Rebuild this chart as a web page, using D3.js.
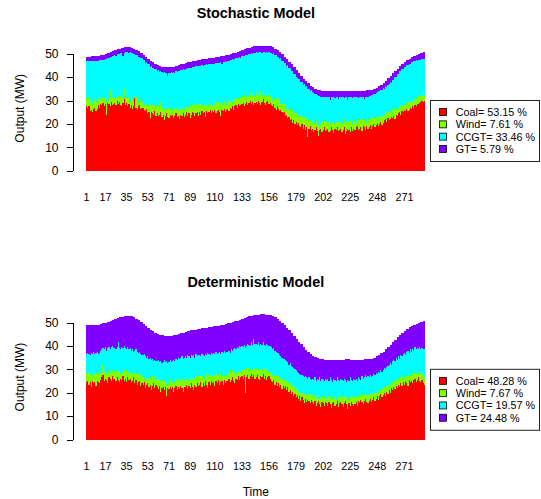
<!DOCTYPE html>
<html><head><meta charset="utf-8">
<script src="https://cdn.jsdelivr.net/npm/d3@7"></script>
<style>
html,body{margin:0;padding:0;background:#fff;}
svg{display:block;}
text{font-family:"Liberation Sans",Arial,Helvetica,sans-serif;fill:#000;}
</style></head><body>
<svg id="chart" width="541" height="499"></svg>
<script>
// ---- categories & labels ----
const timeSteps = d3.range(1, 289);
const tickLabels = [1,17,35,53,71,89,110,133,156,179,202,225,248,271];
const yTicks = [0,10,20,30,40,50];
const seriesNames = ["Coal","Wind","CCGT","GT"];
const seriesColors = ["#FF0000","#80FF00","#00FFFF","#8000FF"];
const legendStoch = ["Coal= 53.15 %","Wind= 7.61 %","CCGT= 33.46 %","GT= 5.79 %"];
const legendDet = ["Coal= 48.28 %","Wind= 7.67 %","CCGT= 19.57 %","GT= 24.48 %"];

// ---- Stochastic model (MW) ----
const coalS = [
27.5,27.0,27.5,25.5,26.0,25.0,26.5,27.0,25.5,26.5,28.0,27.0,
28.5,28.0,29.0,27.5,28.5,24.0,29.0,28.5,27.5,29.5,28.0,28.5,
29.0,28.0,30.0,28.5,29.5,28.0,27.5,29.0,30.5,28.0,29.0,27.5,
28.5,27.0,28.0,26.5,27.5,31.0,27.0,26.0,27.5,28.0,26.5,27.0,
27.0,26.0,25.5,26.5,24.5,25.0,22.5,25.0,24.5,24.0,25.5,23.5,
24.5,23.5,24.0,25.0,23.0,24.0,21.5,23.5,24.5,23.0,22.5,24.0,
23.5,24.0,22.5,23.5,24.5,23.0,23.5,22.0,24.0,23.5,24.5,23.0,
24.0,25.0,23.5,24.5,22.5,24.0,25.0,24.5,23.5,24.5,25.0,23.5,
25.0,24.0,25.5,24.5,25.0,23.0,25.5,24.5,25.0,26.0,24.5,25.5,
25.0,26.0,24.5,25.5,26.0,25.0,23.5,26.0,25.5,26.5,25.0,26.0,
26.5,25.5,27.0,26.5,27.5,26.0,27.5,28.0,27.0,28.5,27.5,28.0,
28.5,29.0,27.5,28.5,29.5,28.0,29.0,30.0,28.5,29.5,28.0,29.0,
29.5,28.5,30.0,29.0,28.0,29.5,30.5,29.0,28.0,29.5,30.0,28.5,
29.0,28.0,27.5,28.5,27.0,26.0,27.5,26.5,25.5,26.0,25.0,24.5,
25.0,23.5,24.0,22.5,23.0,21.5,22.0,20.5,21.5,20.0,21.0,19.5,
20.5,19.0,18.5,20.0,18.0,19.5,17.5,18.5,14.5,18.0,19.0,17.5,
18.0,16.5,17.5,18.5,17.0,15.0,17.5,18.0,16.5,17.5,18.5,17.0,
17.5,18.0,16.5,17.0,18.5,17.5,16.0,18.0,17.5,18.5,17.0,17.5,
18.0,16.5,17.5,18.5,15.5,17.0,18.0,17.5,16.5,18.5,17.0,18.0,
17.5,18.5,19.0,17.5,18.0,18.5,17.0,19.0,18.5,17.5,19.0,18.0,
18.5,19.5,18.0,19.0,20.0,18.5,19.5,20.5,19.0,20.0,21.0,19.5,
20.5,21.5,22.0,21.0,22.5,21.5,22.0,23.0,22.5,23.5,22.0,24.0,
23.5,24.5,25.0,24.0,25.5,25.0,26.0,25.5,26.5,25.5,26.0,27.0,
26.5,27.5,27.0,28.0,27.5,28.5,28.5,29.0,29.5,30.0,29.5,30.0];
const windS = [
3.5,3.0,4.0,4.5,3.0,3.5,2.5,3.5,4.0,3.0,2.5,3.5,
2.0,3.5,2.5,3.5,2.0,5.5,3.0,2.0,7.0,2.5,3.0,4.0,
2.5,3.0,2.5,3.5,1.5,4.0,4.5,2.0,4.5,3.5,2.0,7.0,
3.0,2.5,3.0,4.0,2.0,0.5,4.5,3.5,2.0,3.0,4.0,2.0,
3.0,2.0,4.5,2.0,4.0,2.5,6.0,2.5,3.5,3.5,2.0,4.5,
3.0,4.0,2.5,4.5,4.0,3.5,5.0,2.5,2.0,3.5,4.5,3.0,
3.5,2.0,5.0,3.0,2.5,4.5,2.5,5.0,2.0,3.5,2.5,3.0,
4.0,2.5,3.5,2.5,5.5,3.0,3.0,2.0,4.5,3.5,2.0,5.0,
3.0,4.5,2.0,3.5,3.5,5.0,2.0,4.0,3.0,2.5,4.0,2.0,
4.0,2.0,5.0,3.0,3.5,4.0,5.5,2.0,3.5,3.5,4.0,2.0,
3.5,4.5,2.5,4.0,2.0,4.5,3.0,2.5,4.5,2.5,3.5,3.0,
3.5,2.0,5.0,3.5,2.0,4.5,3.0,3.0,5.0,2.5,5.5,3.0,
3.5,4.5,2.0,3.5,6.0,2.5,2.5,3.5,6.0,2.5,3.5,4.0,
3.0,4.5,2.5,2.0,4.0,4.5,2.5,4.0,4.5,2.5,3.5,4.5,
3.5,4.5,2.5,5.0,3.0,5.5,3.5,5.0,2.5,4.5,3.5,4.0,
3.0,4.0,5.0,3.0,4.5,3.5,5.0,3.5,4.0,3.5,2.5,4.0,
3.0,5.0,2.5,3.0,4.0,4.0,3.5,2.0,4.5,2.5,3.0,4.0,
3.5,2.0,4.5,3.0,2.5,3.5,5.0,2.0,3.5,2.0,4.0,3.0,
3.0,3.5,2.5,3.5,4.5,4.0,2.0,3.5,5.0,2.5,3.0,3.0,
4.0,2.0,2.5,4.5,3.0,3.0,5.0,2.0,3.5,4.0,2.0,4.0,
3.0,2.5,4.5,3.5,2.0,4.5,3.0,2.0,4.0,3.5,2.0,4.0,
4.0,2.5,3.0,4.0,2.0,4.0,3.5,2.0,4.0,2.5,4.0,3.0,
3.5,2.0,3.0,4.0,2.0,3.5,2.0,3.5,2.5,4.0,3.0,2.5,
3.5,2.0,3.5,2.5,3.0,2.0,3.5,3.0,2.5,2.5,3.5,2.0];
const ccgtS = [
15.8,16.8,15.2,16.9,17.9,18.2,17.9,16.5,17.4,17.5,16.4,16.6,
16.7,15.8,15.9,16.5,17.4,18.1,16.2,17.8,14.0,16.6,18.1,16.4,
17.9,18.2,17.4,17.7,18.8,18.1,18.3,18.0,15.4,19.1,19.6,16.3,
19.0,21.1,19.5,19.7,20.5,18.4,18.1,20.0,19.1,17.7,17.5,19.1,
17.1,19.2,16.2,18.0,17.0,18.1,16.0,17.2,16.1,16.4,15.9,15.5,
15.3,15.4,15.8,13.1,15.1,14.4,15.5,15.8,15.3,14.1,14.8,14.7,
15.0,15.8,14.6,15.4,15.5,14.8,16.7,15.5,16.9,16.1,16.3,17.1,
15.5,16.1,16.7,17.0,16.1,17.0,16.4,17.8,16.3,16.6,17.6,16.2,
16.8,16.4,17.7,16.9,16.7,17.1,17.9,16.6,17.4,17.0,16.9,18.0,
16.8,17.6,16.4,17.6,16.5,17.1,17.4,17.5,17.5,16.3,17.8,18.6,
17.0,16.8,17.9,16.7,18.1,16.9,17.3,17.5,16.5,17.2,17.5,17.3,
16.9,18.1,16.7,17.4,17.9,17.1,18.0,16.8,16.7,18.0,17.0,18.3,
17.6,17.4,18.8,18.1,16.8,18.5,17.7,18.4,16.5,18.7,17.0,18.2,
18.3,17.9,19.8,19.6,18.4,18.8,18.8,18.0,17.9,19.5,18.4,18.0,
17.6,17.9,18.4,17.6,17.7,16.9,17.1,16.9,17.5,16.8,15.7,16.3,
15.7,16.0,14.4,15.1,14.3,14.0,13.3,14.0,16.4,13.6,12.6,12.8,
12.5,11.8,12.8,11.1,11.3,13.1,10.9,11.7,10.6,11.4,9.9,10.5,
10.3,11.4,10.5,10.3,10.4,10.3,10.5,11.2,10.4,10.8,9.6,10.9,
10.3,11.5,11.4,9.2,11.5,10.4,10.3,10.6,9.8,10.4,11.2,10.4,
10.0,10.8,9.9,9.2,10.4,10.0,9.3,10.4,8.6,9.9,10.7,9.6,
10.4,10.1,9.7,9.9,10.7,9.9,10.8,11.0,10.9,10.5,11.5,11.1,
10.7,11.0,11.0,10.8,12.2,11.4,12.2,12.6,12.4,12.8,14.0,13.1,
14.3,15.0,14.4,14.6,15.9,14.8,16.4,15.3,16.0,15.7,16.8,16.2,
16.4,16.8,16.5,16.2,16.6,16.5,15.3,15.2,15.5,15.1,14.8,15.8];
const gtS = [
2.0,2.0,2.1,1.9,2.0,2.2,2.0,1.9,2.1,2.0,2.2,2.0,
2.1,2.0,2.2,2.1,2.0,2.3,2.1,2.0,2.2,2.1,2.0,2.2,
2.1,2.3,2.0,2.2,2.4,2.1,2.2,3.5,2.3,2.1,2.2,2.0,
2.3,2.2,2.1,2.4,2.2,2.3,2.1,2.2,2.4,2.3,2.2,2.1,
2.3,2.2,2.4,2.1,2.3,2.2,2.5,2.3,2.2,2.4,2.3,2.2,
2.4,2.3,2.5,2.2,2.4,2.6,2.3,2.5,2.4,3.6,2.4,2.5,
2.3,2.5,2.4,2.6,2.3,2.5,2.4,2.6,2.5,2.3,2.4,2.6,
2.5,2.4,2.6,2.3,2.5,2.6,2.4,2.5,2.7,2.4,2.6,2.5,
2.6,2.5,2.4,2.7,2.5,2.6,2.4,2.7,2.6,2.5,2.7,2.6,
2.5,2.7,2.6,2.4,2.7,2.6,2.5,3.4,2.6,2.8,2.5,2.7,
2.6,2.8,2.5,2.7,2.6,2.8,2.7,2.5,2.8,2.6,2.7,2.9,
2.7,2.5,2.8,2.6,2.9,2.7,2.6,2.8,2.7,2.9,2.6,2.8,
2.7,2.9,2.6,2.8,2.7,3.0,2.8,2.6,2.9,2.7,2.8,2.6,
2.8,2.7,2.9,2.6,2.8,2.9,2.7,3.0,2.8,2.7,2.9,2.8,
2.7,2.9,2.8,2.6,2.9,2.7,2.8,3.0,2.7,2.9,2.8,3.2,
2.6,2.8,2.7,2.5,2.6,2.4,2.5,2.3,2.4,2.2,2.3,2.1,
2.2,2.4,2.3,2.5,2.4,2.6,2.5,2.7,2.6,2.8,2.7,2.6,
2.8,2.7,2.6,3.8,2.7,2.8,2.6,2.9,2.7,2.8,3.5,2.7,
2.8,2.6,2.7,2.9,2.7,2.8,3.9,2.6,2.8,2.7,2.9,2.7,
2.6,2.8,2.7,2.9,2.7,2.6,2.8,2.7,3.6,2.8,2.6,2.7,
2.5,2.3,2.4,2.2,2.3,2.1,2.2,2.0,2.2,2.1,2.3,2.2,
2.4,2.6,2.5,2.7,2.8,2.6,2.8,2.9,2.7,2.8,2.6,2.5,
2.3,2.1,2.2,2.0,2.1,2.2,2.0,2.1,2.2,2.0,2.1,2.2,
2.1,2.2,2.0,2.3,2.4,2.5,2.6,2.7,2.8,2.7,2.8,2.8];

// ---- Deterministic model (MW) ----
const coalD = [
24.5,25.0,23.5,24.5,22.5,25.0,24.0,24.5,23.0,25.0,24.5,24.0,
25.5,26.5,27.5,25.0,26.0,25.5,24.0,26.5,26.0,25.0,27.0,26.0,
26.0,25.0,26.5,25.5,24.5,26.0,25.5,27.0,25.0,26.0,24.5,26.5,
25.5,26.0,24.5,25.0,26.5,24.0,25.5,23.5,24.5,25.0,23.0,24.0,
23.5,24.5,22.0,23.5,24.0,22.5,23.5,21.0,23.0,24.0,22.0,23.5,
22.5,21.5,23.0,20.5,22.0,22.5,21.0,22.5,18.5,22.0,21.5,22.5,
21.5,22.5,20.5,22.0,23.0,21.0,22.5,21.5,23.0,22.0,20.5,22.5,
22.5,23.5,21.5,23.0,22.0,24.0,22.5,21.0,23.5,22.5,24.0,23.0,
23.5,24.5,22.5,24.0,23.0,25.0,23.5,22.0,24.5,23.5,25.0,24.0,
24.5,23.0,25.0,24.0,25.5,23.5,24.5,25.0,23.5,25.5,24.0,25.0,
25.0,26.0,24.5,25.5,26.5,25.0,24.0,26.0,25.5,27.0,25.5,26.5,
27.0,26.0,27.5,20.0,26.5,27.5,26.0,27.0,28.0,26.5,27.5,26.0,
26.5,27.5,26.0,25.5,27.0,26.5,28.0,26.0,27.0,25.5,26.5,27.0,
26.0,25.0,24.5,25.5,23.5,24.5,23.0,24.0,22.5,23.5,21.5,23.0,
22.0,23.0,21.0,22.5,20.5,21.0,19.5,20.5,18.5,19.5,18.0,19.0,
17.5,18.5,16.5,18.0,17.0,15.5,17.5,16.0,17.0,16.5,15.5,17.0,
16.0,15.0,16.5,14.5,15.5,16.5,15.0,14.0,16.0,15.5,14.5,16.0,
15.5,14.5,16.0,15.0,13.5,15.5,16.0,14.5,15.0,16.5,14.0,15.5,
16.0,15.0,14.0,15.5,16.5,15.0,13.0,15.5,14.5,16.0,15.0,14.5,
15.0,16.0,14.5,16.5,15.5,17.0,16.0,15.0,16.5,17.5,16.0,15.5,
16.5,17.5,16.0,17.0,18.0,16.5,17.5,18.5,17.0,18.5,19.5,18.0,
19.0,20.0,18.5,20.5,19.5,21.0,20.0,22.0,21.0,22.5,21.5,23.0,
22.0,23.5,22.5,24.0,23.0,24.5,23.5,25.0,24.0,23.0,25.5,24.5,
25.0,24.0,25.5,26.0,24.5,25.5,26.5,25.0,24.5,25.5,24.0,23.5];
const windD = [
4.0,2.5,5.0,3.5,4.5,2.5,4.5,3.0,5.5,2.5,4.0,3.0,
3.0,2.5,4.5,4.0,3.0,2.5,5.0,3.0,2.5,4.0,2.5,3.5,
3.0,4.5,2.0,3.5,5.0,2.0,3.5,1.5,4.5,3.0,5.0,2.0,
3.0,2.5,4.5,3.5,2.0,4.0,3.0,4.5,3.5,2.5,4.5,3.0,
3.5,1.5,5.0,2.5,3.0,3.5,3.0,4.5,4.0,1.5,4.5,2.0,
3.0,4.0,2.0,4.5,3.5,2.0,4.0,2.5,5.0,3.0,2.5,3.5,
4.0,1.5,5.0,2.5,2.5,4.0,3.5,3.5,2.0,4.0,5.5,2.5,
4.0,2.5,5.5,2.5,4.0,3.0,3.5,6.0,2.5,4.5,2.0,4.0,
3.0,2.5,4.5,3.5,3.0,2.0,4.5,5.0,3.0,3.5,2.0,3.0,
3.5,4.0,3.0,3.0,2.0,4.5,4.0,2.0,5.0,1.5,4.5,2.5,
4.0,2.0,5.0,2.5,3.0,4.5,4.5,2.5,4.0,2.0,4.5,2.5,
2.5,4.5,2.0,7.5,4.0,2.0,4.5,2.5,2.5,3.0,3.0,4.5,
3.5,2.0,4.0,4.5,2.5,3.0,2.0,4.5,3.0,4.0,3.5,2.0,
3.0,3.5,2.5,3.0,4.0,2.5,3.5,3.0,4.0,2.5,4.5,3.0,
3.5,2.5,4.0,3.0,3.5,3.0,4.0,2.5,4.0,3.0,3.5,2.5,
3.0,2.0,3.5,2.0,3.0,4.0,2.0,3.0,2.0,3.0,3.5,2.0,
3.0,3.0,2.5,3.0,3.5,1.5,3.5,3.5,2.5,2.0,4.0,1.5,
2.0,3.5,2.5,3.0,4.0,2.0,3.0,3.5,2.0,2.5,4.0,2.5,
2.5,3.0,4.0,2.5,2.0,3.0,4.5,2.0,3.5,2.5,3.0,3.5,
3.0,2.0,3.5,2.0,3.0,2.0,3.5,3.5,2.5,2.0,3.0,3.5,
2.5,2.0,3.5,2.5,2.0,3.5,2.5,2.0,3.5,2.5,2.0,3.5,
3.0,2.5,3.5,2.5,3.5,2.5,3.5,2.5,3.5,2.0,3.5,2.5,
3.0,2.5,3.5,2.5,3.5,2.0,3.0,2.5,3.0,4.0,2.0,3.0,
3.0,4.0,2.5,3.0,3.5,3.0,2.0,3.5,4.0,2.5,3.5,3.0];
const ccgtD = [
8.0,9.5,8.0,8.0,10.0,9.0,9.0,9.0,8.5,10.0,8.0,10.0,
9.5,9.5,7.0,9.5,10.5,10.0,10.0,10.0,10.0,10.5,10.5,9.5,
10.0,9.0,11.0,12.5,9.5,10.5,10.5,10.5,10.5,10.0,9.0,11.0,
10.0,10.5,9.0,10.0,9.0,10.0,10.0,9.5,9.0,10.0,9.0,9.0,
9.0,10.5,8.5,9.0,8.5,8.5,8.5,8.5,7.5,8.0,7.5,8.0,
8.0,8.5,8.0,8.5,7.0,8.5,9.0,8.0,10.0,7.5,9.0,8.0,
7.5,9.5,8.5,9.0,9.0,9.0,9.0,9.5,10.0,9.5,8.5,10.0,
9.0,9.0,9.0,10.0,9.0,9.0,9.5,9.0,9.0,9.5,9.5,9.0,
9.5,8.5,9.5,8.5,9.5,9.5,8.0,10.0,9.0,9.0,10.0,9.5,
9.0,9.5,9.5,9.5,9.5,9.5,8.0,10.5,8.5,11.0,8.5,10.0,
8.5,10.0,7.5,10.5,8.5,9.0,10.5,10.0,10.0,10.0,10.0,10.5,
10.5,9.0,11.0,11.5,9.5,11.5,10.0,10.5,11.0,11.0,12.5,10.5,
11.0,11.0,11.5,10.0,11.5,11.0,11.5,10.0,10.0,11.5,10.5,11.0,
11.0,11.0,11.5,10.5,10.5,10.5,10.5,10.0,9.5,9.5,9.0,8.5,
9.0,8.5,8.5,7.5,8.0,8.5,8.0,8.0,8.0,7.5,8.0,7.5,
8.0,7.5,7.5,7.5,7.0,7.0,7.5,7.5,7.0,7.0,7.0,6.5,
7.0,7.5,7.5,7.5,7.0,7.5,8.0,7.5,7.5,8.0,6.5,8.5,
8.0,8.0,6.5,8.5,8.0,7.0,7.0,7.5,8.0,7.5,7.5,7.0,
7.5,7.5,7.0,8.0,7.0,6.5,8.0,7.5,8.5,7.0,7.0,8.0,
7.5,8.0,7.0,8.0,7.5,6.5,7.5,7.5,7.5,8.0,7.5,8.0,
7.5,8.0,7.0,7.5,8.0,7.5,8.5,7.5,8.5,7.5,8.0,7.5,
7.5,8.0,8.0,8.0,8.5,8.5,9.0,7.5,9.0,9.5,8.5,9.5,
9.0,9.5,8.5,9.5,9.0,10.0,10.5,8.5,10.5,11.0,9.5,11.0,
9.5,10.5,10.0,10.5,10.5,10.5,10.0,11.0,10.0,11.0,11.0,12.0];
const gtD = [
12.3,11.8,12.3,12.8,11.9,12.4,11.4,12.4,12.0,11.5,12.6,12.1,
11.3,10.8,10.6,11.1,10.4,11.9,11.3,10.8,12.2,11.2,11.1,12.1,
12.5,13.0,12.4,10.4,13.2,13.7,13.0,13.5,12.7,13.7,14.3,13.3,
14.3,13.8,14.6,14.1,14.7,14.2,13.2,14.2,14.0,13.5,13.7,14.2,
13.4,12.9,13.1,13.6,12.3,13.3,12.0,13.0,11.8,12.8,11.7,12.2,
11.7,11.2,11.8,11.3,12.0,11.5,10.3,11.3,10.7,11.7,11.2,10.2,
11.3,10.8,10.5,11.0,10.3,10.8,10.1,10.6,10.4,9.9,11.2,10.7,
10.5,11.0,10.3,10.8,11.6,10.6,11.3,10.8,12.0,10.5,11.7,11.2,
11.4,11.9,11.1,11.6,12.2,11.2,11.8,10.8,11.5,12.0,11.1,11.6,
11.3,11.8,11.0,12.0,11.7,11.2,12.4,11.4,12.1,11.1,12.3,11.8,
12.1,11.6,12.9,11.4,12.2,11.7,11.5,12.0,11.3,11.8,11.2,11.7,
11.6,12.1,11.5,13.0,12.3,11.3,12.1,12.6,11.4,12.4,10.1,12.1,
12.3,12.8,11.9,13.4,12.5,13.0,12.0,13.0,13.4,12.4,12.8,13.3,
13.1,13.6,14.2,13.7,14.2,14.7,14.5,14.5,14.7,15.2,14.8,15.3,
14.3,14.8,14.2,14.7,14.6,14.1,13.9,14.4,13.7,14.2,13.5,14.0,
13.3,13.8,13.1,13.1,12.4,12.9,11.3,11.8,11.3,10.8,10.4,10.9,
9.7,10.2,8.6,10.1,8.7,9.2,7.9,9.4,8.2,8.7,9.1,8.1,
8.6,8.1,9.1,7.6,8.6,9.6,8.1,8.6,9.1,7.6,8.6,9.1,
8.1,8.6,9.1,8.1,8.7,9.7,8.7,9.2,7.6,8.6,9.1,8.1,
8.6,8.1,9.1,7.6,8.1,8.6,7.1,8.1,7.7,6.7,7.8,7.3,
7.9,6.9,8.1,7.6,7.0,7.5,7.0,7.5,7.1,7.6,7.3,7.8,
8.1,7.1,8.5,7.5,8.0,7.5,8.0,8.5,8.1,7.6,9.1,7.6,
9.6,8.1,10.1,8.6,10.0,9.0,9.4,10.4,9.7,9.2,10.9,9.4,
11.0,10.0,11.0,9.5,11.0,10.5,11.4,10.4,11.8,11.3,12.1,12.1];

// ---- drawing ----
const svg = d3.select("#chart");
const FONT = '"Liberation Sans",Arial,Helvetica,sans-serif';

function drawPanel(cfg) {
  const oy = cfg.offsetY;
  const g = svg.append("g");
  const x = d3.scaleBand().domain(timeSteps).range([86, 425]).padding(0);
  const y = d3.scaleLinear().domain([0, 50]).range([170.7 + oy, 53.7 + oy]);

  const table = timeSteps.map((t, i) => ({
    t: t, Coal: cfg.coal[i], Wind: cfg.wind[i], CCGT: cfg.ccgt[i], GT: cfg.gt[i]
  }));
  const layers = d3.stack().keys(seriesNames)(table);

  g.append("g").selectAll("g").data(layers).join("g")
    .attr("fill", (d, i) => seriesColors[i])
    .selectAll("rect").data(d => d).join("rect")
    .attr("shape-rendering", "crispEdges")
    .attr("x", d => x(d.data.t))
    .attr("width", x.bandwidth())
    .attr("y", d => y(d[1]))
    .attr("height", d => y(d[0]) - y(d[1]));

  // y axis
  const ya = g.append("g").attr("transform", "translate(72.5,0)")
    .call(d3.axisLeft(y).tickValues(yTicks).tickSize(6).tickSizeOuter(0).tickPadding(8));
  ya.selectAll("path,line").attr("stroke", "#000").attr("stroke-width", 1).attr("shape-rendering", "crispEdges");
  ya.selectAll("text").attr("font-size", 12).attr("font-family", FONT).attr("fill", "#000");
  ya.attr("font-family", FONT);

  // x labels (no axis line)
  const xa = g.append("g").attr("transform", `translate(0,${193.5 + oy})`)
    .call(d3.axisBottom(x).tickValues(tickLabels).tickSize(0).tickPadding(0));
  xa.select(".domain").remove();
  xa.selectAll("text").attr("font-size", 10.8).attr("font-family", FONT).attr("fill", "#000");

  // titles
  g.append("text").attr("x", 255.8).attr("y", 18.3 + oy)
    .attr("text-anchor", "middle").attr("font-weight", "bold").attr("font-size", 14.4)
    .text(cfg.title);
  g.append("text")
    .attr("transform", `translate(20,${108.3 + oy}) rotate(-90)`)
    .attr("text-anchor", "middle").attr("dominant-baseline", "central")
    .attr("font-size", 12).text("Output (MW)");

  // legend
  const lg = g.append("g").attr("transform", `translate(430,${100 + oy})`);
  lg.append("rect").attr("x", 0.5).attr("y", 0.5).attr("width", 109).attr("height", 61)
    .attr("fill", "#fff").attr("stroke", "#222").attr("stroke-width", 1);
  cfg.legend.forEach((lab, i) => {
    const cy = 12.05 + i * 12.3;
    lg.append("rect").attr("x", 9.5).attr("y", cy - 3.5).attr("width", 7).attr("height", 7)
      .attr("fill", seriesColors[i]).attr("stroke", "#000").attr("stroke-width", 0.8);
    lg.append("text").attr("x", 25.7).attr("y", cy).attr("dominant-baseline", "central")
      .attr("font-size", 10.8).text(lab);
  });

  if (cfg.xTitle) {
    g.append("text").attr("x", 255.8).attr("y", 495.5).attr("text-anchor", "middle")
      .attr("font-size", 12).text(cfg.xTitle);
  }
}

drawPanel({offsetY: 0, title: "Stochastic Model", coal: coalS, wind: windS, ccgt: ccgtS, gt: gtS, legend: legendStoch});
drawPanel({offsetY: 268.8, title: "Deterministic Model", coal: coalD, wind: windD, ccgt: ccgtD, gt: gtD, legend: legendDet, xTitle: "Time"});
</script>
</body></html>
